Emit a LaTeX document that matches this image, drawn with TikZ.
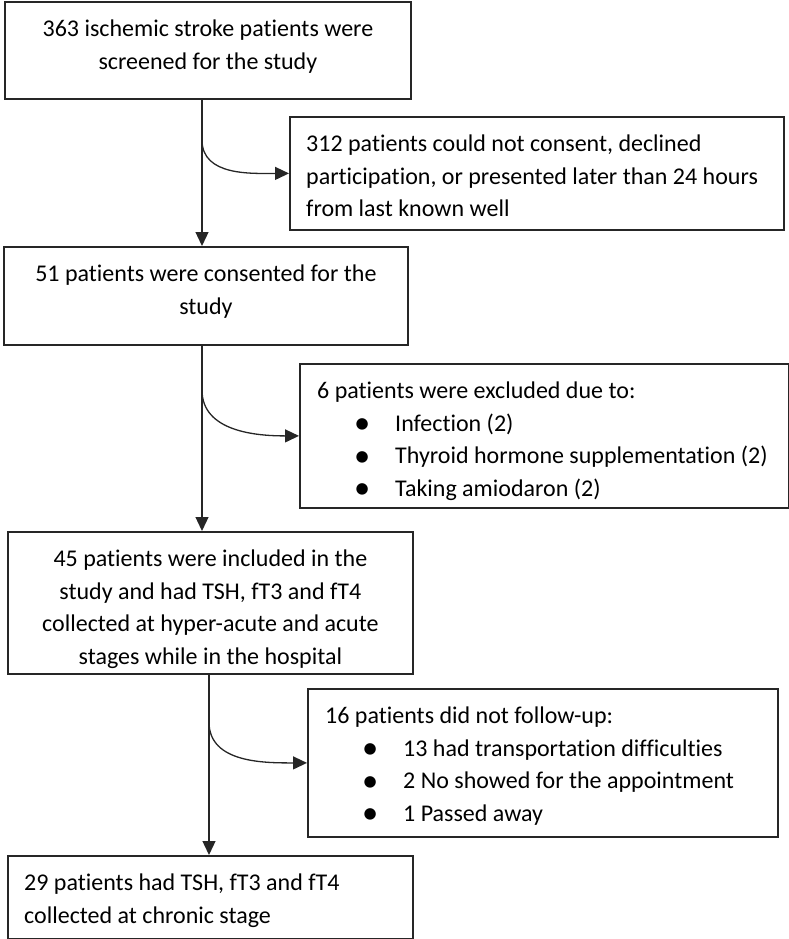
\documentclass[tikz,border=0pt]{standalone}
\usepackage{fontspec}
\setmainfont{Carlito}[Ligatures=NoCommon]
\usetikzlibrary{arrows.meta, positioning}

\newcommand{\bitem}[1]{\hspace*{45pt}\makebox[0pt]{\raisebox{-2.5pt}{\scalebox{1.35}{\textbullet}}}\hspace*{33pt}#1}

\begin{document}
\begin{tikzpicture}[x=1pt,y=-1pt,>={Triangle[length=14pt,width=13pt]},
      box node/.style={rectangle,draw=black!85,line width=1.8pt,inner sep=0pt,anchor=north west},
      text node/.style={inner sep=0pt,font=\fontsize{24}{32.5}\selectfont},
      flow/.style={->,line width=1.3pt,draw=black!85}]
    \useasboundingbox (0,0) rectangle (789,939);

        \node[box node, minimum width=406pt, minimum height=97pt] (1) at (4,1) {};
        \node[box node, minimum width=494pt, minimum height=113pt] (2) at (289,116) {};
        \node[box node, minimum width=404pt, minimum height=98pt] (3) at (3,246) {};
        \node[box node, minimum width=489pt, minimum height=144pt] (4) at (299,363) {};
        \node[box node, minimum width=405pt, minimum height=142pt] (5) at (7,531) {};
        \node[box node, minimum width=470pt, minimum height=148pt] (6) at (307,688) {};
        \node[box node, minimum width=405pt, minimum height=83pt] (7) at (7,855) {};

        \node[text node, anchor=north, align=center] (t1) at ([yshift=-19pt]1.north)
            {363 ischemic stroke patients were\\screened for the study};
        \node[text node, anchor=north west, align=left] (t2) at ([xshift=17pt,yshift=-19pt]2.north west)
            {312 patients could not consent, declined\\participation, or presented later than 24 hours\\from last known well};
        \node[text node, anchor=north, align=center] (t3) at ([yshift=-19pt]3.north)
            {51 patients were consented for the\\study};
        \node[text node, anchor=north west, align=left] (t4) at ([xshift=18pt,yshift=-19pt]4.north west)
            {6 patients were excluded due to:\\\bitem{Infection (2)}\\\bitem{Thyroid hormone supplementation (2)}\\\bitem{Taking amiodaron (2)}};
        \node[text node, anchor=north, align=center] (t5) at ([yshift=-19pt]5.north)
            {45 patients were included in the\\study and had TSH, fT3 and fT4\\collected at hyper-acute and acute\\stages while in the hospital};
        \node[text node, anchor=north west, align=left] (t6) at ([xshift=18pt,yshift=-19pt]6.north west)
            {16 patients did not follow-up:\\\bitem{13 had transportation difficulties}\\\bitem{2 No showed for the appointment}\\\bitem{1 Passed away}};
        \node[text node, anchor=north west, align=left] (t7) at ([xshift=17pt,yshift=-19pt]7.north west)
            {29 patients had TSH, fT3 and fT4\\collected at chronic stage};

        \coordinate (s1) at (202,140);
        \coordinate (s2) at (202,390);
        \coordinate (s3) at (209,722);

        \draw[flow] (1.south -| s1) -- (3.north -| s1);
        \draw[flow] (s1) to[out=-90,in=180] (2.west);
        \draw[flow] (3.south -| s2) -- (5.north -| s2);
        \draw[flow] (s2) to[out=-90,in=180] (4.west);
        \draw[flow] (5.south -| s3) -- (7.north -| s3);
        \draw[flow] (s3) to[out=-90,in=180] (6.west);
    \end{tikzpicture}
\end{document}
